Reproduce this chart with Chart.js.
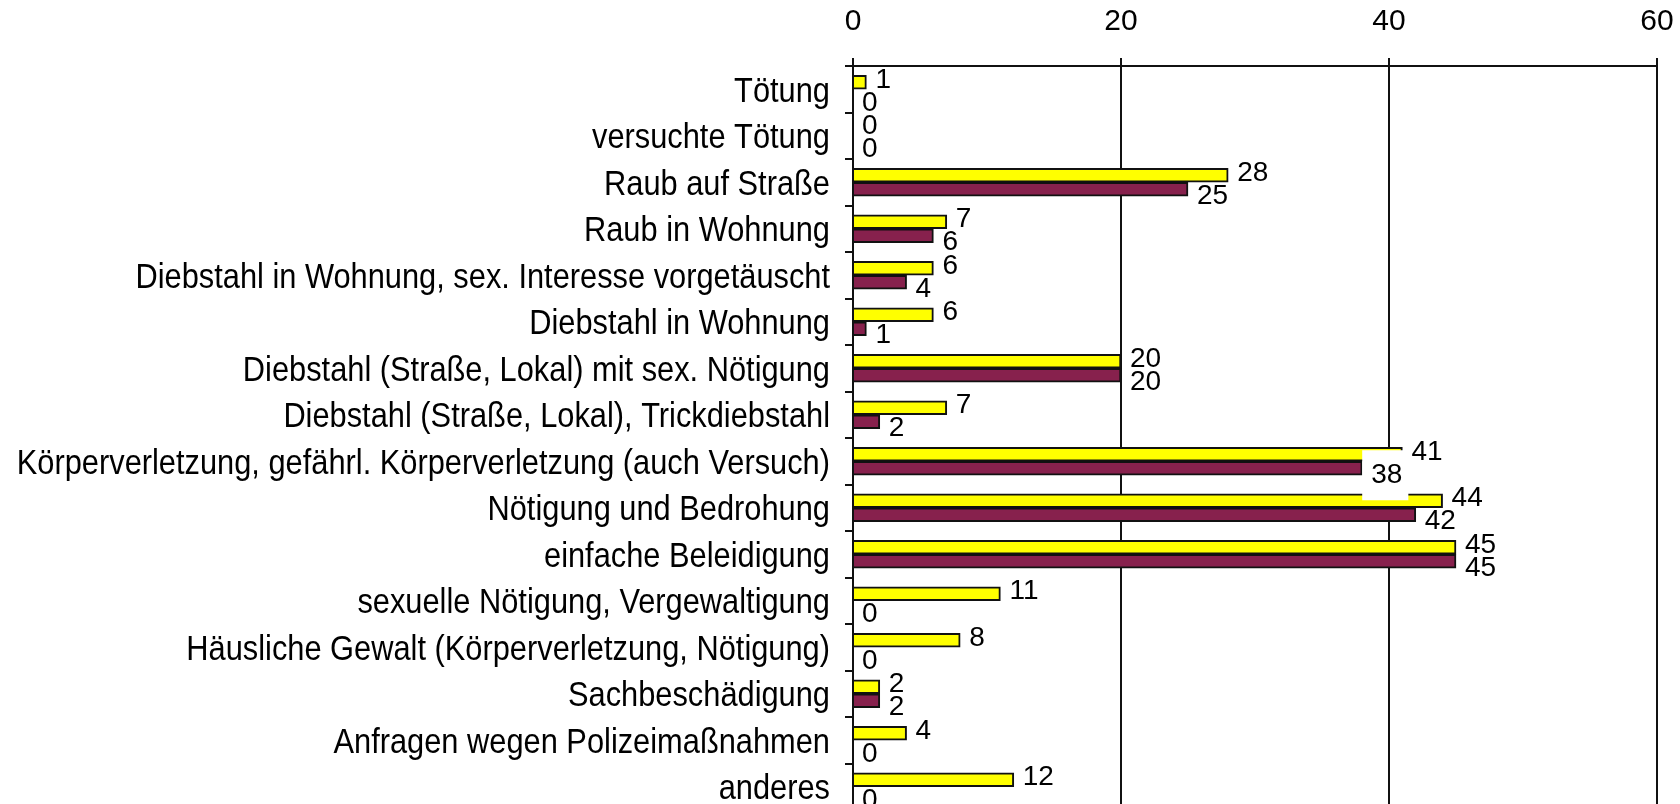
<!DOCTYPE html>
<html>
<head>
<meta charset="utf-8">
<script src="https://cdn.jsdelivr.net/npm/chart.js@4/dist/chart.umd.min.js"></script>
<style>
html, body { margin: 0; padding: 0; background: #fff; overflow: hidden; }
canvas { display: block; }
</style>
</head>
<body>
<canvas id="c" width="1680" height="810"></canvas>
<script>
const categories = [
  "Tötung",
  "versuchte Tötung",
  "Raub auf Straße",
  "Raub in Wohnung",
  "Diebstahl in Wohnung, sex. Interesse vorgetäuscht",
  "Diebstahl in Wohnung",
  "Diebstahl (Straße, Lokal) mit sex. Nötigung",
  "Diebstahl (Straße, Lokal), Trickdiebstahl",
  "Körperverletzung, gefährl. Körperverletzung (auch Versuch)",
  "Nötigung und Bedrohung",
  "einfache Beleidigung",
  "sexuelle Nötigung, Vergewaltigung",
  "Häusliche Gewalt (Körperverletzung, Nötigung)",
  "Sachbeschädigung",
  "Anfragen wegen Polizeimaßnahmen",
  "anderes"
];
const seriesYellow = [1, 0, 28, 7, 6, 6, 20, 7, 41, 44, 45, 11, 8, 2, 4, 12];
const seriesPurple = [0, 0, 25, 6, 4, 1, 20, 2, 38, 42, 45, 0, 0, 2, 0, 0];
const xTicks = [0, 20, 40, 60];

const FONT = '"Liberation Sans", Arial, sans-serif';
const boxedLabel = { dataset: 1, index: 8 };

// category labels, drawn in a condensed (narrow) face
const categoryLabels = {
  id: 'categoryLabels',
  afterDraw(chart) {
    const ctx = chart.ctx;
    const ys = chart.scales.y;
    ctx.save();
    ctx.font = '35px ' + FONT;
    ctx.fillStyle = '#000000';
    ctx.textAlign = 'right';
    ctx.textBaseline = 'middle';
    chart.data.labels.forEach((lab, i) => {
      const y = ys.getPixelForValue(i);
      ctx.save();
      ctx.translate(ys.right - 23, y + 3);
      ctx.scale(0.88, 1);
      ctx.fillText(lab, 0, 0);
      ctx.restore();
    });
    ctx.restore();
  }
};

const valueLabels = {
  id: 'valueLabels',
  afterDatasetsDraw(chart) {
    const ctx = chart.ctx;
    ctx.save();
    ctx.font = '28px ' + FONT;
    ctx.textBaseline = 'middle';
    ctx.textAlign = 'left';
    chart.data.datasets.forEach((ds, di) => {
      const meta = chart.getDatasetMeta(di);
      meta.data.forEach((bar, i) => {
        const text = String(ds.data[i]);
        const x = bar.x + 9;
        const y = bar.y + (di === 0 ? -2 : 7);
        if (di === boxedLabel.dataset && i === boxedLabel.index) {
          const w = ctx.measureText(text).width;
          ctx.fillStyle = '#ffffff';
          ctx.fillRect(bar.x, y - 25, w + 15, 50);
        }
        ctx.fillStyle = '#000000';
        ctx.fillText(text, x, y);
      });
    });
    ctx.restore();
  }
};

new Chart(document.getElementById('c'), {
  type: 'bar',
  data: {
    labels: categories,
    datasets: [
      { data: seriesYellow, backgroundColor: '#FFFF00', borderColor: '#111111', borderWidth: 2, borderSkipped: 'start', barThickness: 14 },
      { data: seriesPurple, backgroundColor: '#87214D', borderColor: '#111111', borderWidth: 2, borderSkipped: 'start', barThickness: 14 }
    ]
  },
  options: {
    indexAxis: 'y',
    responsive: false,
    animation: false,
    layout: { padding: { left: 0, right: 23, top: 0, bottom: 0 } },
    plugins: { legend: { display: false }, tooltip: { enabled: false } },
    scales: {
      x: {
        position: 'top',
        min: 0, max: 60,
        afterBuildTicks: (s) => { s.ticks = xTicks.map(v => ({ value: v })); },
        afterFit: (s) => { s.height = 66; s.paddingLeft = 0; s.paddingRight = 0; },
        grid: { color: '#111111', lineWidth: 2, tickLength: 8, drawTicks: true },
        border: { color: '#111111', width: 2 },
        ticks: { color: '#000000', font: { family: FONT, size: 30 }, padding: 18 }
      },
      y: {
        afterFit: (s) => { s.width = 853; s.paddingTop = 0; s.paddingBottom = 0; },
        grid: { drawOnChartArea: false, color: '#111111', lineWidth: 2, tickLength: 8, offset: true },
        border: { color: '#111111', width: 2 },
        ticks: { display: false, autoSkip: false }
      }
    }
  },
  plugins: [valueLabels, categoryLabels]
});
</script>
</body>
</html>
